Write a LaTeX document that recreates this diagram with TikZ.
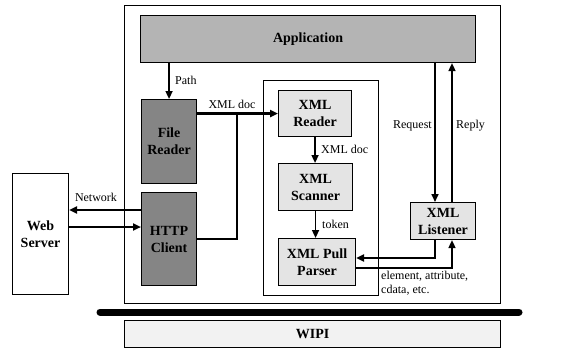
\documentclass[tikz,border=0pt]{standalone}
\usepackage{fontspec}
\setmainfont{Liberation Serif}
\usetikzlibrary{arrows.meta}
\definecolor{appgray}{HTML}{B4B4B4}
\definecolor{darkbox}{HTML}{858585}
\definecolor{lightbox}{HTML}{E4E4E4}
\definecolor{wipigray}{HTML}{F2F2F2}
\tikzset{
  box/.style={draw=black, line width=1.1pt, anchor=north west, inner sep=0pt, align=center,
    font=\fontsize{14}{17}\selectfont\bfseries},
  lbl/.style={font=\fontsize{12}{14}\selectfont, inner sep=1pt},
  arr/.style={line width=1.6pt, -{Triangle[length=8pt,width=7pt]}},
  ln/.style={line width=1.3pt}
}
\begin{document}
\begin{tikzpicture}[x=1pt,y=-1pt]
\useasboundingbox (0,0) rectangle (563,359);
% containers
\node[box, minimum width=376pt, minimum height=298pt] (outer) at (124,5) {};
\node[box, minimum width=115pt, minimum height=215pt] (inner) at (263,80) {};
% boxes
\node[box, fill=appgray, minimum width=335pt, minimum height=47pt] (app) at (140,15) {Application};
\node[box, fill=darkbox, minimum width=55pt, minimum height=84pt] (fr) at (141,99) {File\\Reader};
\node[box, fill=darkbox, minimum width=55pt, minimum height=93pt] (hc) at (141,192) {HTTP\\Client};
\node[box, fill=lightbox, minimum width=73pt, minimum height=46pt] (xr) at (278,90) {XML\\Reader};
\node[box, fill=lightbox, minimum width=74pt, minimum height=47pt] (xs) at (278,163) {XML\\Scanner};
\node[box, fill=lightbox, minimum width=77pt, minimum height=47pt] (xp) at (278,238) {XML Pull\\Parser};
\node[box, fill=lightbox, minimum width=65pt, minimum height=37pt] (xl) at (410,202) {XML\\Listener};
\node[box, fill=white, minimum width=56pt, minimum height=121pt] (ws) at (12,173) {Web\\Server};
\node[box, fill=wipigray, minimum width=376pt, minimum height=27pt] (wipi) at (124,320) {WIPI};
% thick bar
\draw[line width=7pt, line cap=round] (100,312) -- (519,312);
% helper coordinates
\coordinate (j) at (237,0);
\coordinate (rq) at (435,0);
\coordinate (rp) at (452,0);
\coordinate (a1) at (0,258);
\coordinate (a2) at (0,268);
\coordinate (n1) at (0,210);
\coordinate (n2) at (0,227);
% connectors
\draw[arr] (fr.north |- app.south) -- (fr.north);
\draw[arr, line width=2.2pt] (fr.east |- xr.west) -- (xr.west);
\draw[ln] (hc.east) -| (j |- xr.west);
\draw[arr] (xr.south) -- (xr.south |- xs.north);
\draw[arr] (xs.south) -- (xs.south |- xp.north);
\draw[arr] (app.south -| rq) -- (xl.north -| rq);
\draw[arr] (xl.north -| rp) -- (app.south -| rp);
\draw[arr, line width=2.4pt] (xl.south -| rq) |- (xp.east |- a1);
\draw[arr] (xp.east |- a2) -| (xl.south -| rp);
\draw[arr, line width=2.2pt] (hc.west |- n1) -- (ws.east |- n1);
\draw[arr, line width=2.2pt] (ws.east |- n2) -- (hc.west |- n2);
% labels
\node[lbl, anchor=west] at (174,80) {Path};
\node[lbl] at (232,104) {XML doc};
\node[lbl, anchor=west] at (320,149) {XML doc};
\node[lbl, anchor=west] at (321,224) {token};
\node[lbl, anchor=east] at (433,126) {Request};
\node[lbl, anchor=west] at (455,126) {Reply};
\node[lbl] at (96,197) {Network};
\node[lbl, anchor=north west, align=left, font=\fontsize{12}{14}\selectfont] at (380,270) {element, attribute,\\cdata, etc.};
\end{tikzpicture}
\end{document}
